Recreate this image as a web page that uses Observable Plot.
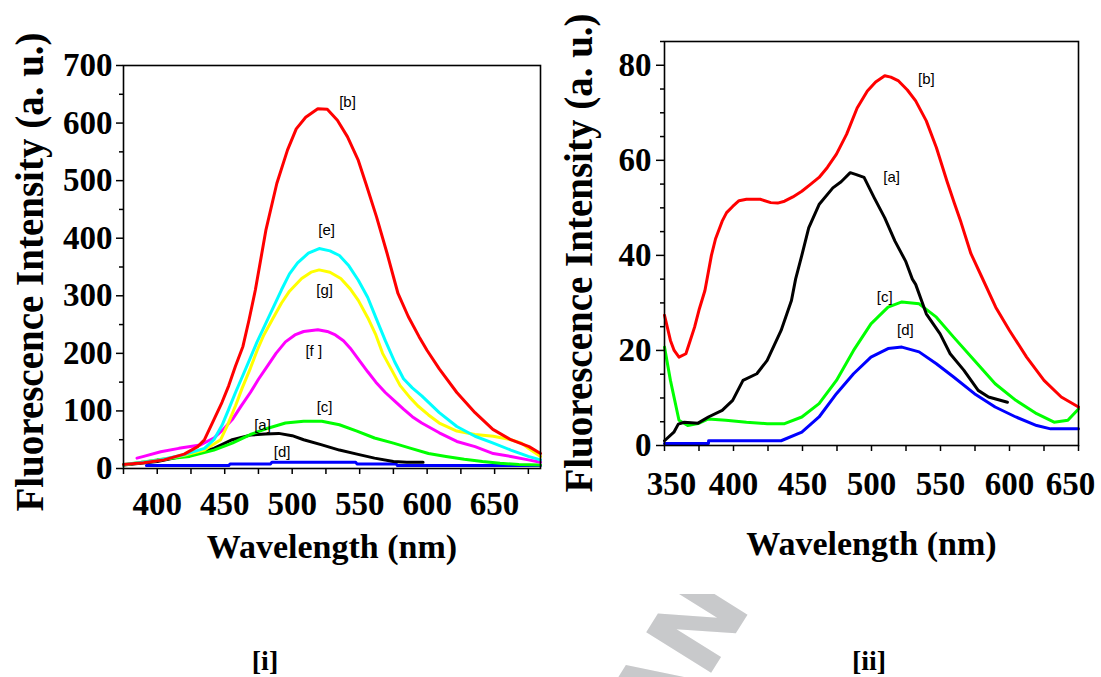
<!DOCTYPE html>
<html>
<head>
<meta charset="utf-8">
<script src="https://cdn.jsdelivr.net/npm/d3@7"></script>
<script src="https://cdn.jsdelivr.net/npm/@observablehq/plot@0.6"></script>
<style>
  html, body { margin: 0; padding: 0; background: #fff; }
  #page { position: relative; width: 1101px; height: 677px; overflow: hidden; background: #fff; }
  .panel { position: absolute; top: 0; }
  .tag { position: absolute; font-family: "Liberation Serif", serif; font-weight: bold; font-size: 28px; line-height: 1; transform: translateX(-50%); }
  .ytitle { position: absolute; font-family: "Liberation Serif", serif; font-weight: bold; font-size: 39px; line-height: 1; white-space: nowrap; transform: translate(-50%, -50%) rotate(-90deg); }
</style>
</head>
<body>
<div id="page">
  <svg id="wm" width="1101" height="677" style="position:absolute;left:0;top:0">
    <defs><clipPath id="wmclip"><rect x="0" y="594" width="1101" height="83"></rect></clipPath></defs>
    <g clip-path="url(#wmclip)">
      <text id="wmtext" font-family="DejaVu Sans" font-weight="bold" font-size="105" fill="#c8c9cb">ANU</text>
    </g>
  </svg>
  <div id="left" class="panel" style="left:0"></div>
  <div id="right" class="panel" style="left:560px"></div>
  <div class="ytitle" style="left:29px; top:272px">Fluorescence Intensity (a. u.)</div>
  <div class="ytitle" style="left:578px; top:253px">Fluorescence Intensity (a. u.)</div>
  <div class="tag" style="left:265px; top:647px">[i]</div>
  <div class="tag" style="left:869px; top:647px">[ii]</div>
</div>
<script>
// ---------------- Panel [i] data ----------------
const i_b_wl = [375,390,405,420,430,435,442,448,453,458,463.5,468,472.7,480.6,488.6,496.5,503,510,519,526,533.5,541,549,554.6,562.5,570.4,578.4,586,594,600,609,622,635.5,648.7,662,675.5,684];
const i_b    = [7,10,15,25,38,50,85,115,144,178,212,258,310,415,495,553,590,610,625,624,605,576,535,495,437,373,304,264,229,205,173,132,97,68,50,38,26];

const i_e_wl = [375,400,420,435,442,448,453,458,463.5,469,474,480,486,492,498,504,512,520,528,535,542,549,556,562,569,576,582.5,589,596,609,622,635.5,649,662,675,684];
const i_e    = [7,14,24,35,50,75,103,132,162,192,220,250,280,310,338,357,374,382,378,370,352,327,297,262,222,185,156,140,126,97,73,56,44,32,21,15];

const i_g_wl = [375,400,420,435,447,452,458,463,469,474,479,486,492,498,507,514,520,528,536,543,549,556,562,567,574,580,587,593,601,609,622,635.5,649,662,670,675,684];
const i_g    = [7,14,23,32,50,75,109,140,174,205,232,262,287,308,330,341,345,341,330,312,292,262,232,200,170,144,124,109,93,79,65,59,56,50,44,35,21];

const i_f_wl = [385,390,402.6,416,432,442,449,455.6,462,469,475,482,488,495,502,508.5,519,526,532,538,543,549,556,562,569,576,582.5,589,596,609,622,635.5,649,662,675,684];
const i_f    = [18,21,29,35,41,53,68,85,108,132,155,179,200,220,232,238,241,238,232,222,209,190,168,150,132,117,103,90,79,62,47,38,26,21,15,11];

const i_c_wl = [375,400,424,442,455.6,469,482,495,508.5,522,535,548,561,575,588,601,614,627.5,641,654,668,684];
const i_c    = [6,15,21,32,44,59,70,79,82,82,76,65,53,44,35,26,21,16,12,9,7,6];

const i_a_wl = [375,400,424,442,455.6,469,480,490,500,508.5,522,535,548,561,575,585,597];
const i_a    = [6,12,24,35,50,58,60,61,57,50,41,32,25,18,12,11,11];

const i_d_wl = [392,453,454,484,485,547,548,577,578,684];
const i_d    = [5,5,8,8,11,11,8,8,5,5];

const i_labels   = ["[b]","[e]","[g]","[f ]","[c]","[a]","[d]"];
const i_label_wl = [541,525.5,524,516,524,478,492.6];
const i_label_y  = [636,414,310,203,106,76,29];

const i_xTicks = [375,400,425,450,475,500,525,550,575,600,625,650,675];
const i_xLabels = [400,450,500,550,600,650];
const i_yMajor = [0,100,200,300,400,500,600,700];
const i_yMinor = [50,150,250,350,450,550,650];

// ---------------- Panel [ii] data ----------------
const ii_b_wl = [350,354.3,357,360.5,365.5,368,371.8,375,379.3,384,387,391.8,395,399.4,404,409.4,419.4,427,432,437,443,449.5,456,462,468,474.6,482,489.6,497,503,509.6,514,519.6,526,532,539.7,547,554.7,560,564.8,572,580,590,600,612.4,625,637.5,650];
const ii_b    = [27.4,22.1,20,18.6,19.3,21.5,24.9,28.5,32.6,40,43.5,47.2,49,50.3,51.5,51.8,51.8,51.1,51,51.4,52.3,53.5,55,56.4,58.5,61.3,65.5,71,74.6,76.5,77.8,77.5,76.7,74.8,72.5,68.3,62.7,55.6,51,47,40.4,35.4,29.1,24.2,18.6,13.7,10.2,8.1];

const ii_a_wl = [350,356.8,360,364.3,374.3,381.8,391.8,399.4,406.9,416.9,424.4,434.5,442,445,449.5,454.5,462,472,478,484.6,489,494.6,502,509.6,517,524.7,529.6,532,539.7,549.7,557,567,577.3,584.8,598.5];
const ii_a    = [1,2.8,4.5,4.9,4.7,6,7.4,9.5,13.7,15.1,17.9,24.2,30.5,35,40,45.8,50.7,54.2,55.5,57.4,57,56.4,52.1,47.9,43,38.8,35,33.9,27.7,23.5,19.3,15.8,11.6,10.2,9.1];

const ii_c_wl = [350,354.3,360.5,366.8,374.3,381.8,394.4,409.4,424.4,437,449.5,462,474.6,487,499.6,512,522,534.5,547,559.5,574.6,589.6,604.6,619.7,632.3,642.3,650];
const ii_c    = [20.7,13.7,5.3,4.2,4.6,5.6,5.3,4.9,4.6,4.6,6,8.8,13.7,20,25.6,29.1,30.2,29.8,27,22.8,17.9,13,9.5,6.7,4.9,5.3,7.7];

const ii_d_wl = [350,381.8,382,434.5,449.5,462,474.6,487,499.6,512,522,534.5,547,559.5,574.6,589.6,604.6,619.7,629.8,650];
const ii_d    = [0.4,0.4,1,1,2.8,6,10.9,15.1,18.6,20.4,20.7,19.7,17.2,14.4,10.9,8.1,6,4.2,3.5,3.5];

const ii_labels   = ["[b]","[a]","[c]","[d]"];
const ii_label_wl = [539.8,514.6,509.6,524.6];
const ii_label_y  = [77,56.4,31.2,24.2];

const ii_xTicks = [350,375,400,425,450,475,500,525,550,575,600,625,650];
const ii_xLabels = [400,450,500,550,600];
const ii_yMajor = [0,20,40,60,80];
const ii_yMinor = [5,10,15,25,30,35,45,50,55,65,70,75,85];

// ---------------- helpers ----------------
const rows = (wl, v) => wl.map((w, k) => ({wl: w, v: v[k]}));
const labelRows = (t, wl, y) => t.map((s, k) => ({t: s, wl: wl[k], v: y[k]}));
const serif = "Liberation Serif, Times New Roman, serif";
const tickFont = {fontFamily: serif, fontWeight: "bold", fontSize: 33};
const lineW = 3;

function series(wl, v, color) {
  return Plot.lineY(rows(wl, v), {x: "wl", y: "v", stroke: color, strokeWidth: lineW, strokeLinejoin: "round"});
}

// ---------------- Panel [i] ----------------
const left = Plot.plot({
  width: 560, height: 580,
  marginLeft: 123, marginRight: 20, marginTop: 65, marginBottom: 112,
  x: {domain: [375, 684]},
  y: {domain: [0, 700]},
  style: {background: "transparent", overflow: "visible", fontFamily: serif},
  marks: [
    series(i_d_wl, i_d, "#0000ff"),
    series(i_a_wl, i_a, "#000000"),
    series(i_c_wl, i_c, "#00ff00"),
    series(i_f_wl, i_f, "#ff00ff"),
    series(i_g_wl, i_g, "#ffff00"),
    series(i_e_wl, i_e, "#00ffff"),
    series(i_b_wl, i_b, "#ff0000"),
    Plot.text(labelRows(i_labels, i_label_wl, i_label_y), {x: "wl", y: "v", text: "t", fontFamily: "Liberation Sans", fontSize: 15, fill: "black"}),
    Plot.frame({stroke: "black", strokeWidth: 1.6}),
    Plot.axisX({ticks: i_xTicks, tickSize: 6, strokeWidth: 1.5, tickPadding: 17, tickFormat: d => i_xLabels.includes(d) ? String(d) : "", label: null, ...tickFont}),
    Plot.axisY({ticks: i_yMajor, tickSize: 7, strokeWidth: 1.5, tickPadding: 4, label: null, ...tickFont}),
    Plot.axisY({ticks: i_yMinor, tickSize: 4, strokeWidth: 1.5, tickFormat: () => "", label: null}),
    Plot.text(["Wavelength (nm)"], {frameAnchor: "bottom", dy: 89, fontFamily: serif, fontWeight: "bold", fontSize: 34})
  ]
});
document.getElementById("left").appendChild(left);

// ---------------- Panel [ii] ----------------
const right = Plot.plot({
  width: 541, height: 580,
  marginLeft: 104, marginRight: 23, marginTop: 41, marginBottom: 135,
  x: {domain: [350, 650]},
  y: {domain: [0, 85]},
  style: {background: "transparent", overflow: "visible", fontFamily: serif},
  marks: [
    series(ii_d_wl, ii_d, "#0000ff"),
    series(ii_c_wl, ii_c, "#00ff00"),
    series(ii_a_wl, ii_a, "#000000"),
    series(ii_b_wl, ii_b, "#ff0000"),
    Plot.text(labelRows(ii_labels, ii_label_wl, ii_label_y), {x: "wl", y: "v", text: "t", fontFamily: "Liberation Sans", fontSize: 15, fill: "black"}),
    Plot.frame({stroke: "black", strokeWidth: 1.6}),
    Plot.axisX({ticks: ii_xTicks, tickSize: 6, strokeWidth: 1.5, tickPadding: 20, tickFormat: d => ii_xLabels.includes(d) ? String(d) : "", label: null, ...tickFont}),
    Plot.axisX({ticks: [350], tickSize: 0, tickPadding: 26, dx: 7, label: null, ...tickFont}),
    Plot.axisX({ticks: [650], tickSize: 0, tickPadding: 26, dx: -8, label: null, ...tickFont}),
    Plot.axisY({ticks: ii_yMajor, tickSize: 8, strokeWidth: 1.5, tickPadding: 5, label: null, ...tickFont}),
    Plot.axisY({ticks: ii_yMinor, tickSize: 4, strokeWidth: 1.5, tickFormat: () => "", label: null}),
    Plot.text(["Wavelength (nm)"], {frameAnchor: "bottom", dy: 109, fontFamily: serif, fontWeight: "bold", fontSize: 34})
  ]
});
document.getElementById("right").appendChild(right);

// ---------------- watermark fragment placement ----------------
(function () {
  const t = document.getElementById("wmtext");
  const wA = t.getSubStringLength(0, 1);
  const ang = -58 * Math.PI / 180;
  const bx = Math.cos(ang), by = Math.sin(ang);
  const Nx = 706, Ny = 681; // origin of the "N" glyph
  t.setAttribute("transform", `translate(${Nx - wA * bx},${Ny - wA * by}) rotate(-58)`);
})();
</script>
</body>
</html>
